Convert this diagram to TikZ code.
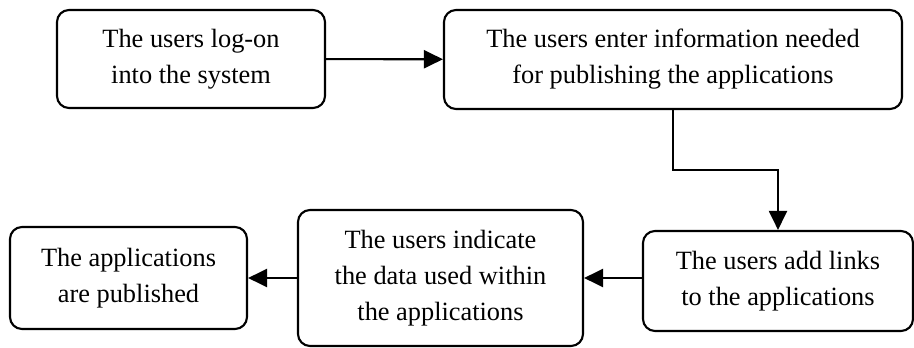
\documentclass[tikz,border=0pt]{standalone}
\usepackage{fontspec}
\setmainfont{Liberation Serif}
\usetikzlibrary{shapes,arrows,arrows.meta,positioning}

\tikzset{
    stepbox/.style={draw, line width=1.2pt, rounded corners=0.24cm, align=center,
        inner sep=0pt, font=\fontsize{15}{20.5}\selectfont},
    arr/.style={line width=1.2pt, -{Triangle[length=0.38cm,width=0.36cm]}}
}

\begin{document}
\begin{tikzpicture}[scale=1]
    \useasboundingbox (0,0) rectangle (18.28,6.96);
    % Top row
    \node[stepbox, minimum width=5.36cm, minimum height=1.96cm] (login) at (3.82,5.78) {The users log-on\\into the system};
    \node[stepbox, minimum width=9.16cm, minimum height=1.98cm] (enter) at (13.46,5.77) {The users enter information needed\\for publishing the applications};
    
    % Bottom row
    \node[stepbox, minimum width=5.40cm, minimum height=2.0cm] (links) at (15.56,1.34) {The users add links\\to the applications};
    \node[stepbox, minimum width=5.70cm, minimum height=2.72cm] (data) at (8.81,1.40) {The users indicate\\the data used within\\the applications};
    \node[stepbox, minimum width=4.74cm, minimum height=2.04cm] (pub) at (2.57,1.40) {The applications\\are published};
    
    % Arrows
    \coordinate (turn) at (13.46,3.56);
    \draw[arr] (login) -- (enter);
    \draw[arr] (enter.south) -- (turn) -| (links.north);
    \draw[arr] (links.west |- data.east) -- (data.east);
    \draw[arr] (data.west) -- (pub.east);
\end{tikzpicture}
\end{document}
